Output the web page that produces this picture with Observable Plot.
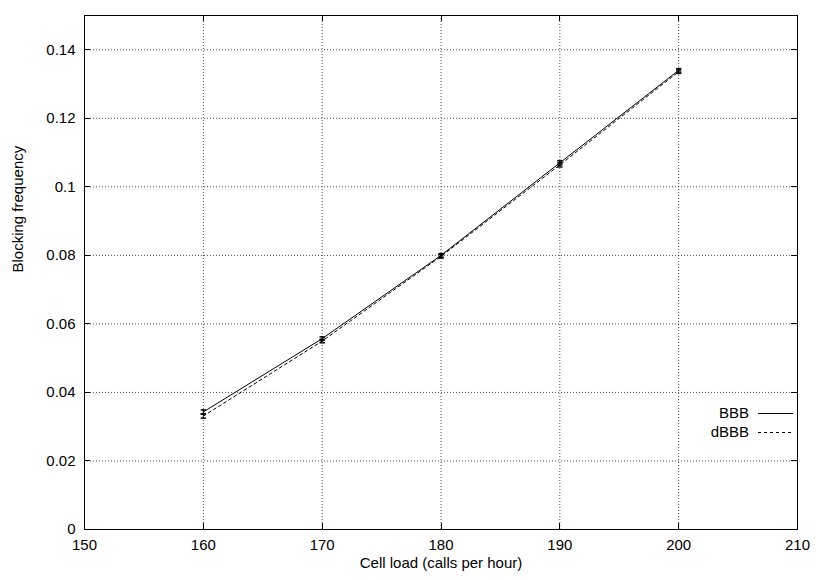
<!DOCTYPE html>
<html><head><meta charset="utf-8">
<script src="https://cdn.jsdelivr.net/npm/d3@7"></script>
<script src="https://cdn.jsdelivr.net/npm/@observablehq/plot@0.6"></script>
<style>
body{margin:0;background:#fff}
#chart{font-family:"Liberation Sans",Arial,Helvetica,sans-serif}
</style>
</head><body><div id="chart"></div>
<script>
// ---- data ----
const loads = [160, 170, 180, 190, 200];
const bbbValues = [0.0343, 0.0557, 0.0800, 0.1070, 0.1340];
const bbbErrors = [0.0006, 0.0005, 0.0005, 0.0006, 0.0005];
const dbbbValues = [0.0331, 0.0550, 0.0797, 0.1064, 0.1336];
const dbbbErrors = [0.0006, 0.0005, 0.0005, 0.0006, 0.0005];
const seriesNames = ["BBB", "dBBB"];
const xTicks = [150, 160, 170, 180, 190, 200, 210];
const yTicks = [0, 0.02, 0.04, 0.06, 0.08, 0.1, 0.12, 0.14];
const xLabel = "Cell load (calls per hour)";
const yLabel = "Blocking frequency";

// ---- tables built from the arrays ----
const bbbRows = loads.map((x, i) => ({x, y: bbbValues[i], e: bbbErrors[i], s: seriesNames[0]}));
const dbbbRows = loads.map((x, i) => ({x, y: dbbbValues[i], e: dbbbErrors[i], s: seriesNames[1]}));
const allRows = bbbRows.concat(dbbbRows);

const dashes = {BBB: null, dBBB: "3,3"};
const capSymbol = {draw(ctx, size) { const r = Math.sqrt(size) / 2; ctx.moveTo(-r, 0); ctx.lineTo(r, 0); }};

function innerTicks(index, {x, y}, values, dims) {
  const g = d3.create("svg:g").attr("stroke", "#000").attr("stroke-width", 1).attr("fill", "none");
  const L = dims.marginLeft, R = dims.width - dims.marginRight;
  const T = dims.marginTop, B = dims.height - dims.marginBottom;
  const len = 6;
  for (const v of xTicks) {
    const px = Math.round(x(v)) + 0.5;
    g.append("line").attr("x1", px).attr("x2", px).attr("y1", B).attr("y2", B - len);
    g.append("line").attr("x1", px).attr("x2", px).attr("y1", T).attr("y2", T + len);
  }
  for (const v of yTicks) {
    const py = Math.round(y(v)) + 0.5;
    g.append("line").attr("x1", L).attr("x2", L + len).attr("y1", py).attr("y2", py);
    g.append("line").attr("x1", R).attr("x2", R - len).attr("y1", py).attr("y2", py);
  }
  return g.node();
}

function legend(index, scales, values, dims) {
  const g = d3.create("svg:g");
  const R = dims.width - dims.marginRight;
  const B = dims.height - dims.marginBottom;
  seriesNames.forEach((name, i) => {
    const cy = B - 116 + i * 19;
    g.append("text").attr("x", R - 48).attr("y", cy).attr("dy", "0.35em")
      .attr("text-anchor", "end").attr("fill", "#000").text(name);
    g.append("line").attr("x1", R - 39).attr("x2", R - 4)
      .attr("y1", Math.round(cy) + 0.5).attr("y2", Math.round(cy) + 0.5)
      .attr("stroke", "#000").attr("stroke-width", 1)
      .attr("stroke-dasharray", dashes[name]);
  });
  return g.node();
}

const chart = Plot.plot({
  width: 823,
  height: 580,
  marginLeft: 84,
  marginRight: 26,
  marginTop: 15,
  marginBottom: 51,
  style: {fontSize: "15px", fontFamily: "'Liberation Sans', Arial, Helvetica, sans-serif", background: "#fff", color: "#000"},
  x: {domain: [150, 210], ticks: xTicks, tickSize: 0, tickPadding: 10, tickFormat: d => String(d), label: null},
  y: {domain: [0, 0.15], ticks: yTicks, tickSize: 0, tickPadding: 9, tickFormat: d => String(d), label: null},
  marks: [
    Plot.ruleX(xTicks.slice(1, -1), {stroke: "#000", strokeOpacity: 0.7, strokeDasharray: "1,2"}),
    Plot.ruleY(yTicks.slice(1), {stroke: "#000", strokeOpacity: 0.7, strokeDasharray: "1,2"}),
    Plot.line(bbbRows, {x: "x", y: "y", stroke: "#000", strokeWidth: 1}),
    Plot.line(dbbbRows, {x: "x", y: "y", stroke: "#000", strokeWidth: 1, strokeDasharray: "3,3"}),
    Plot.ruleX(allRows, {x: "x", y1: d => d.y - d.e, y2: d => d.y + d.e, stroke: "#000"}),
    Plot.dot(allRows, {x: "x", y: d => d.y - d.e, symbol: capSymbol, r: 3, stroke: "#000", fill: "none"}),
    Plot.dot(allRows, {x: "x", y: d => d.y + d.e, symbol: capSymbol, r: 3, stroke: "#000", fill: "none"}),
    Plot.frame({stroke: "#000"}),
    innerTicks,
    legend,
    Plot.text([yLabel], {text: d => d, frameAnchor: "left", dx: -66, rotate: -90, fill: "#000"}),
    Plot.text([xLabel], {text: d => d, frameAnchor: "bottom", dy: 38, fill: "#000"})
  ]
});
document.getElementById("chart").appendChild(chart);
</script>
</body></html>
